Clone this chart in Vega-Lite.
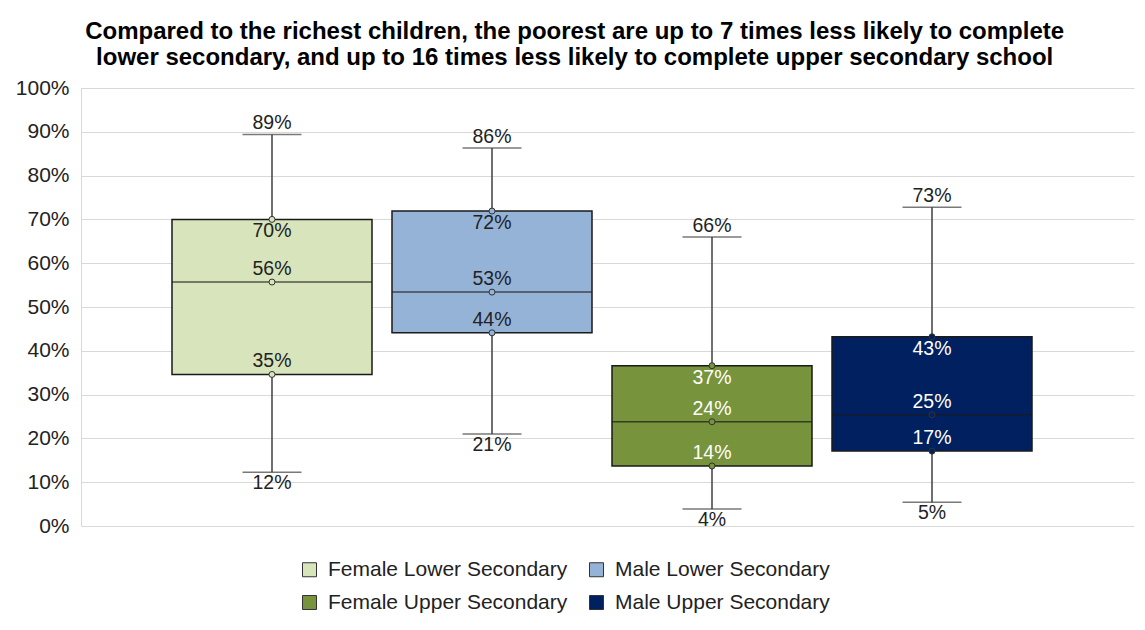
{
  "$schema": "https://vega.github.io/schema/vega-lite/v6.json",
  "width": 1053,
  "height": 438,
  "autosize": {"type": "none"},
  "padding": {"left": 81, "top": 88, "right": 11, "bottom": 104},
  "background": "white",
  "title": {
    "text": ["Compared to the richest children, the poorest are up to 7 times less likely to complete", "lower secondary, and up to 16 times less likely to complete upper secondary school"],
    "anchor": "middle",
    "frame": "bounds",
    "font": "Liberation Sans",
    "fontSize": 24,
    "fontWeight": "bold",
    "color": "#000000",
    "lineHeight": 26,
    "offset": 7
  },
  "config": {
    "font": "Liberation Sans",
    "view": {"stroke": null},
    "axis": {"labelFont": "Liberation Sans"}
  },
  "data": {
    "values": [
      {"series": "Female Lower Secondary", "min": 0.123, "q1": 0.346, "median": 0.557, "q3": 0.700, "max": 0.894},
      {"series": "Male Lower Secondary", "min": 0.210, "q1": 0.441, "median": 0.534, "q3": 0.719, "max": 0.863},
      {"series": "Female Upper Secondary", "min": 0.039, "q1": 0.137, "median": 0.238, "q3": 0.366, "max": 0.660},
      {"series": "Male Upper Secondary", "min": 0.054, "q1": 0.171, "median": 0.254, "q3": 0.432, "max": 0.728}
    ]
  },
  "encoding": {
    "x": {
      "field": "series",
      "type": "nominal",
      "sort": null,
      "scale": {"paddingInner": 0.0909, "paddingOuter": 0.4386, "align": 0.4715},
      "axis": null
    }
  },
  "layer": [
    {
      "mark": {"type": "rule", "color": "#404040", "strokeWidth": 1.5},
      "encoding": {
        "y": {"field": "min", "type": "quantitative",
          "scale": {"domain": [0, 1]},
          "axis": {"format": ".0%", "values": [0,0.1,0.2,0.3,0.4,0.5,0.6,0.7,0.8,0.9,1], "title": null,
            "ticks": false, "labelFontSize": 21, "labelColor": "#222222", "labelPadding": 12,
            "gridColor": "#d9d9d9", "gridWidth": 1, "domainColor": "#d9d9d9", "domainWidth": 1}},
        "y2": {"field": "max"}
      }
    },
    {
      "mark": {"type": "bar", "stroke": "#1a1a1a", "strokeWidth": 1.5},
      "encoding": {
        "y": {"field": "q1", "type": "quantitative"},
        "y2": {"field": "q3"},
        "fill": {
          "field": "series", "type": "nominal", "sort": null,
          "scale": {"domain": ["Female Lower Secondary", "Male Lower Secondary", "Female Upper Secondary", "Male Upper Secondary"],
            "range": ["#d8e4bc", "#95b3d7", "#77933c", "#002060"]},
          "legend": {
            "title": null, "orient": "none", "legendX": 218, "legendY": 471,
            "columns": 2, "direction": "horizontal",
            "symbolType": "square", "symbolSize": 196, "symbolStrokeColor": "#333333", "symbolStrokeWidth": 1,
            "labelFontSize": 21, "labelColor": "#222222", "labelOffset": 8, "labelLimit": 0,
            "columnPadding": 18, "rowPadding": 11
          }
        }
      }
    },
    {
      "mark": {"type": "tick", "color": "#1a1a1a", "thickness": 1.5, "size": 200, "orient": "horizontal"},
      "encoding": {"y": {"field": "median", "type": "quantitative"}}
    },
    {
      "mark": {"type": "tick", "color": "#404040", "thickness": 1.5, "size": 59, "orient": "horizontal"},
      "encoding": {"y": {"field": "min", "type": "quantitative"}}
    },
    {
      "mark": {"type": "tick", "color": "#404040", "thickness": 1.5, "size": 59, "orient": "horizontal"},
      "encoding": {"y": {"field": "max", "type": "quantitative"}}
    },
    {
      "transform": [{"fold": ["q1", "median", "q3"], "as": ["stat", "val"]}],
      "mark": {"type": "point", "shape": "circle", "filled": true, "size": 36, "stroke": "#333333", "strokeWidth": 1, "opacity": 1},
      "encoding": {
        "y": {"field": "val", "type": "quantitative"},
        "fill": {"field": "series", "type": "nominal", "legend": null}
      }
    },
    {
      "mark": {"type": "text", "baseline": "bottom", "dy": -1, "fontSize": 19.5, "color": "#222222"},
      "encoding": {"y": {"field": "max", "type": "quantitative"}, "text": {"field": "max", "format": ".0%"}}
    },
    {
      "mark": {"type": "text", "baseline": "top", "dy": 2, "fontSize": 19.5, "color": "#222222"},
      "encoding": {"y": {"field": "min", "type": "quantitative"}, "text": {"field": "min", "format": ".0%"}}
    },
    {
      "mark": {"type": "text", "baseline": "top", "dy": 3, "fontSize": 19.5},
      "encoding": {
        "y": {"field": "q3", "type": "quantitative"}, "text": {"field": "q3", "format": ".0%"},
        "color": {"condition": {"test": "indexof(datum.series, 'Upper') >= 0", "value": "#ffffff"}, "value": "#222222"}
      }
    },
    {
      "mark": {"type": "text", "baseline": "bottom", "dy": -3, "fontSize": 19.5},
      "encoding": {
        "y": {"field": "median", "type": "quantitative"}, "text": {"field": "median", "format": ".0%"},
        "color": {"condition": {"test": "indexof(datum.series, 'Upper') >= 0", "value": "#ffffff"}, "value": "#222222"}
      }
    },
    {
      "mark": {"type": "text", "baseline": "bottom", "dy": -3, "fontSize": 19.5},
      "encoding": {
        "y": {"field": "q1", "type": "quantitative"}, "text": {"field": "q1", "format": ".0%"},
        "color": {"condition": {"test": "indexof(datum.series, 'Upper') >= 0", "value": "#ffffff"}, "value": "#222222"}
      }
    }
  ]
}
